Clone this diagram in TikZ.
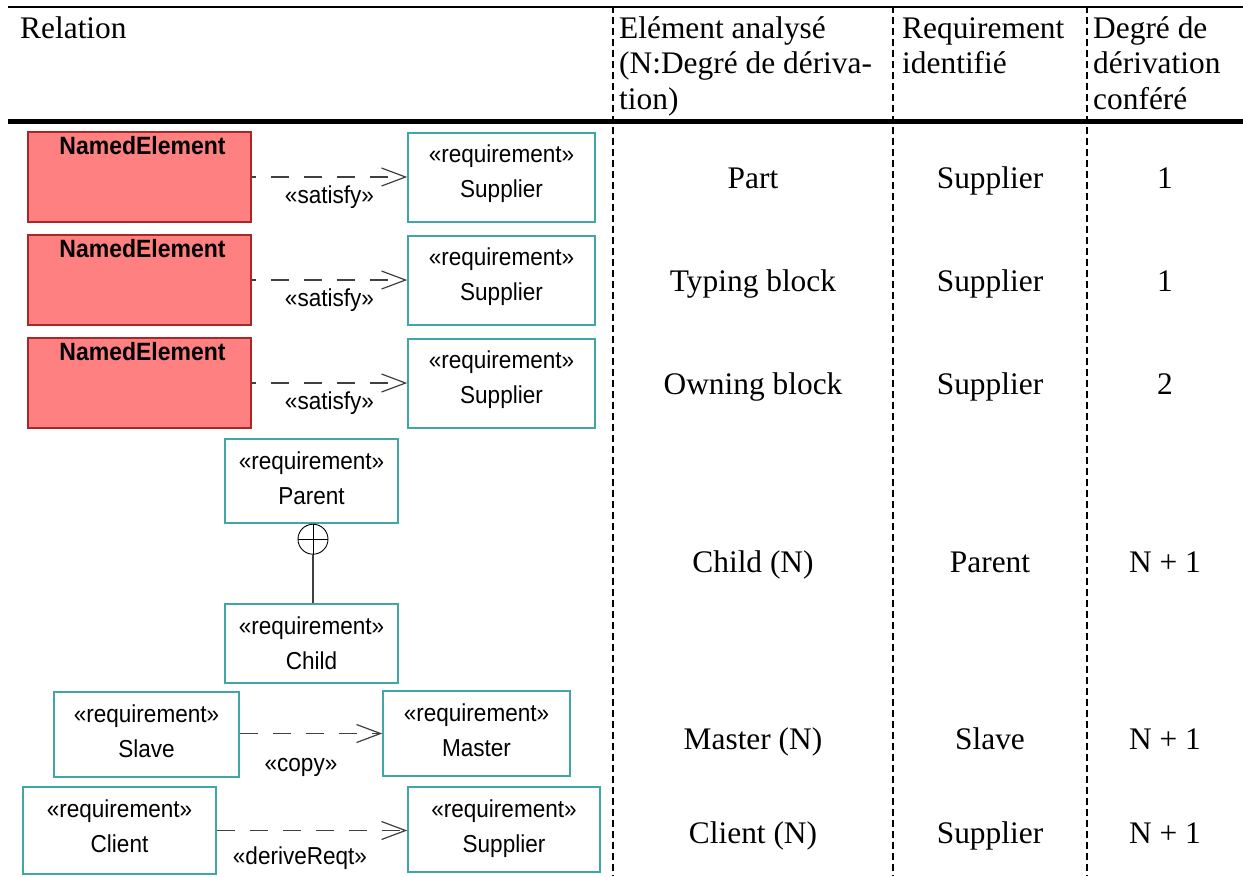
\documentclass[tikz,border=0pt]{standalone}
\usepackage{fontspec}
\setmainfont{Liberation Serif}
\newfontfamily\umlfont[FakeStretch=0.92]{Liberation Sans}
\usetikzlibrary{arrows.meta}
\definecolor{reqteal}{RGB}{64,166,166}
\definecolor{nefill}{RGB}{255,128,128}
\definecolor{nedraw}{RGB}{168,40,40}
\definecolor{linkgray}{RGB}{64,64,64}

\begin{document}
\begin{tikzpicture}[x=1pt,y=-1pt,
  cell/.style={inner sep=0pt, font=\fontsize{31.4}{35.5}\selectfont},
  hcell/.style={cell, anchor=base west},
  bcell/.style={cell, anchor=base},
  nebox/.style={draw=nedraw, fill=nefill, line width=1.3pt, inner sep=0pt,
                minimum width=223pt, minimum height=90pt},
  nelabel/.style={inner sep=0pt, anchor=base, font=\umlfont\bfseries\fontsize{25}{28}\selectfont},
  reqbox/.style={draw=reqteal, line width=1.5pt, inner sep=0pt, fill=white},
  reqtext/.style={inner sep=0pt, anchor=base, font=\umlfont\fontsize{24.5}{35}\selectfont},
  stereo/.style={inner sep=0pt, anchor=base, font=\umlfont\fontsize{24.5}{26}\selectfont},
  deplink/.style={draw=linkgray, line width=1.3pt, dash pattern=on 18pt off 15pt,
                  -{Straight Barb[length=24pt,width=18pt,line width=1.2pt]}},
  rowrule/.style={line width=#1, line cap=butt},
  colsep/.style={line width=#1, dash pattern=on 7pt off 4pt}
]
\useasboundingbox (0,0) rectangle (1243,876);

% table rules
\draw[rowrule=2pt] (8,7) -- (1243,7);
\draw[rowrule=5pt] (8,121) -- (1243,121);
\draw[colsep=2.5pt] (613,6) -- (613,876);
\draw[colsep=1.6pt] (893,6) -- (893,876);
\draw[colsep=2.5pt] (1087,6) -- (1087,876);

% header
\node[hcell] (hrel) at (20,38) {Relation};
\node[hcell] (helem) at (619,38) {\begin{tabular}[t]{@{}l@{}}Elément analysé\\(N:Degré de dériva-\\tion)\end{tabular}};
\node[hcell] (hreq) at (902,38) {\begin{tabular}[t]{@{}l@{}}Requirement\\identifié\end{tabular}};
\node[hcell] (hdeg) at (1093,38) {\begin{tabular}[t]{@{}l@{}}Degré de\\dérivation\\conféré\end{tabular}};

% satisfy rows
\foreach \i/\cy in {1/177, 2/280, 3/383} {
  \node[nebox] (ne\i) at (139.5,\cy) {};
  \node[nelabel] (nel\i) at ([xshift=3pt,yshift=-23pt]ne\i.north) {NamedElement};
  \node[reqbox, minimum width=187pt, minimum height=89pt] (rq\i) at (501.5,\cy+0.5) {};
  \node[reqtext] (rqt\i) at ([yshift=-30pt]rq\i.north) {\begin{tabular}[t]{@{}c@{}}«requirement»\\Supplier\end{tabular}};
  \draw[deplink, dash phase=14pt] (ne\i.east) -- node[stereo, yshift=-26pt] (sat\i) {«satisfy»} (ne\i.east -| rq\i.west);
}

% containment
\node[reqbox, minimum width=173pt, minimum height=84pt] (parent) at (311.5,481) {};
\node[reqtext] (parentt) at ([yshift=-31pt]parent.north) {\begin{tabular}[t]{@{}c@{}}«requirement»\\Parent\end{tabular}};
\node[reqbox, minimum width=173pt, minimum height=79pt] (child) at (311.5,643.5) {};
\node[reqtext] (childt) at ([yshift=-31pt]child.north) {\begin{tabular}[t]{@{}c@{}}«requirement»\\Child\end{tabular}};
\node[circle, draw, line width=0.9pt, inner sep=0pt, minimum size=30pt, anchor=north] (cross) at ([xshift=1.5pt]parent.south) {};
\draw[line width=0.9pt] (cross.north) -- (cross.south);
\draw[line width=0.9pt] (cross.west) -- (cross.east);
\draw[draw=linkgray, line width=1.5pt] (cross.south) -- (cross.south |- child.north);

% copy
\node[reqbox, minimum width=185pt, minimum height=85pt] (slave) at (146.5,734.5) {};
\node[reqtext] (slavet) at ([yshift=-31pt]slave.north) {\begin{tabular}[t]{@{}c@{}}«requirement»\\Slave\end{tabular}};
\node[reqbox, minimum width=187pt, minimum height=85pt] (master) at (476.5,733.5) {};
\node[reqtext] (mastert) at ([yshift=-31pt]master.north) {\begin{tabular}[t]{@{}c@{}}«requirement»\\Master\end{tabular}};
\draw[deplink] ([yshift=1pt]slave.east) -- node[stereo, xshift=-10pt, yshift=-38pt] (copyl) {«copy»} ([yshift=1pt]slave.east -| master.west);

% deriveReqt
\node[reqbox, minimum width=193pt, minimum height=87pt] (client) at (119.5,830.5) {};
\node[reqtext] (clientt) at ([yshift=-31pt]client.north) {\begin{tabular}[t]{@{}c@{}}«requirement»\\Client\end{tabular}};
\node[reqbox, minimum width=192pt, minimum height=85pt] (supp) at (504,829.5) {};
\node[reqtext] (suppt) at ([yshift=-31pt]supp.north) {\begin{tabular}[t]{@{}c@{}}«requirement»\\Supplier\end{tabular}};
\draw[deplink] (client.east) -- node[stereo, xshift=-12pt, yshift=-34pt] (derl) {«deriveReqt»} (client.east -| supp.west);

% body cells
\node[bcell] (c11) at (753,188) {Part};
\node[bcell] (c12) at (990,188) {Supplier};
\node[bcell] (c13) at (1165,188) {1};
\node[bcell] (c21) at (753,291) {Typing block};
\node[bcell] (c22) at (990,291) {Supplier};
\node[bcell] (c23) at (1165,291) {1};
\node[bcell] (c31) at (753,394) {Owning block};
\node[bcell] (c32) at (990,394) {Supplier};
\node[bcell] (c33) at (1165,394) {2};
\node[bcell] (c41) at (753,572) {Child (N)};
\node[bcell] (c42) at (990,572) {Parent};
\node[bcell] (c43) at (1165,572) {N + 1};
\node[bcell] (c51) at (753,749) {Master (N)};
\node[bcell] (c52) at (990,749) {Slave};
\node[bcell] (c53) at (1165,749) {N + 1};
\node[bcell] (c61) at (753,843) {Client (N)};
\node[bcell] (c62) at (990,843) {Supplier};
\node[bcell] (c63) at (1165,843) {N + 1};
\end{tikzpicture}
\end{document}
